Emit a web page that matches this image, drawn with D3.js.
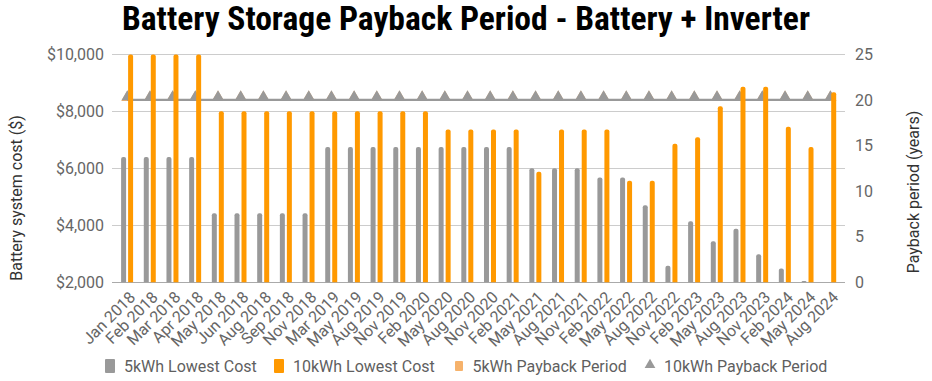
<!DOCTYPE html>
<html><head><meta charset="utf-8">
<script src="https://cdn.jsdelivr.net/npm/d3@7"></script>
<style>
html,body{margin:0;padding:0;background:#fff;}
svg{display:block;font-family:Roboto,"Noto Sans",sans-serif;}
</style></head>
<body>
<svg id="chart" width="932" height="381"></svg>
<script>
const categories = ["Jan 2018","Feb 2018","Mar 2018","Apr 2018","May 2018","Jun 2018","Aug 2018","Sep 2018","Nov 2018","Mar 2019","May 2019","Aug 2019","Nov 2019","Feb 2020","May 2020","Aug 2020","Nov 2020","Feb 2021","May 2021","Aug 2021","Nov 2021","Feb 2022","May 2022","Aug 2022","Nov 2022","Feb 2023","May 2023","Aug 2023","Nov 2023","Feb 2024","May 2024","Aug 2024"];
const cost5kWh = [6400,6400,6400,6400,4420,4420,4420,4420,4420,6750,6750,6750,6750,6750,6750,6750,6750,6750,6000,6000,6000,5680,5680,4700,2580,4140,3440,3880,2980,2480,2050,null];
const cost10kWh = [9990,9990,9990,9990,8000,8000,8000,8000,8000,8000,8000,8000,8000,8000,7360,7360,7360,7360,5880,7360,7360,7360,5560,5560,6860,7090,8180,8860,8860,7460,6750,8670];
const payback5kWh = [20,20,20,20,20,20,20,20,20,20,20,20,20,20,20,20,20,20,20,20,20,20,20,20,20,20,20,20,20,20,20,20];
const payback10kWh = [20,20,20,20,20,20,20,20,20,20,20,20,20,20,20,20,20,20,20,20,20,20,20,20,20,20,20,20,20,20,20,20];
const leftTicks = [2000,4000,6000,8000,10000];
const rightTicks = [0,5,10,15,20,25];
const seriesNames = ["5kWh Lowest Cost","10kWh Lowest Cost","5kWh Payback Period","10kWh Payback Period"];
const colors = ["#999999","#ff9900","#f6b26b","#999999"];
const titleText = "Battery Storage Payback Period - Battery + Inverter";
const leftTitle = "Battery system cost ($)";
const rightTitle = "Payback period (years)";

const svg = d3.select("#chart");
const plotL = 112, plotR = 845, plotT = 54.3, plotB = 282.3;

const xc = d3.scalePoint().domain(categories).range([127.3, 830.4]);
const xs = d3.scaleBand().domain([0,1]).range([-6.2, 5.8]).paddingInner(2/7);
const yL = d3.scaleLinear().domain([2000,10000]).range([plotB, plotT]);
const yR = d3.scaleLinear().domain([0,25]).range([plotB, plotT]);

// Title
const title = svg.append("text").attr("x", 466).attr("y", 30)
  .attr("text-anchor","middle")
  .style("font-family","'Roboto Condensed','Liberation Sans Narrow','DejaVu Sans Condensed',Roboto,sans-serif")
  .style("font-weight","bold").style("font-size","33px").attr("fill","#000")
  .text(titleText);
const tw = title.node().getComputedTextLength();
if (Math.abs(tw-688) > 4) title.attr("textLength", 688).attr("lengthAdjust","spacingAndGlyphs");

// Gridlines
svg.append("g").selectAll("line").data(leftTicks).join("line")
  .attr("x1", plotL).attr("x2", plotR)
  .attr("y1", d=>Math.round(yL(d))+0.5).attr("y2", d=>Math.round(yL(d))+0.5)
  .attr("stroke", d=> d===2000 ? "#aaaaaa" : "#cccccc").attr("stroke-width",1);

// Left axis
const axL = d3.axisLeft(yL).tickValues(leftTicks).tickSize(0).tickPadding(8)
  .tickFormat(d=>"$"+d3.format(",")(d));
const gL = svg.append("g").attr("transform",`translate(${plotL-0},0)`).call(axL);
gL.select(".domain").remove();
gL.selectAll("text").attr("fill","#666").style("font-size","16px").style("font-family","Roboto");

// Right axis
const axR = d3.axisRight(yR).tickValues(rightTicks).tickSize(0).tickPadding(10);
const gR = svg.append("g").attr("transform",`translate(${plotR},0)`).call(axR);
gR.select(".domain").remove();
gR.selectAll("text").attr("fill","#666").style("font-size","16px").style("font-family","Roboto");

// Axis titles
svg.append("text").attr("transform","translate(22,198) rotate(-90)").attr("text-anchor","middle")
  .attr("fill","#333").style("font-size","16px").text(leftTitle);
svg.append("text").attr("transform","translate(919,192) rotate(-90)").attr("text-anchor","middle")
  .attr("fill","#333").style("font-size","16px").text(rightTitle);

// Payback lines (drawn beneath bars)
const line5 = d3.line().x((d,i)=>xc(categories[i])).y(d=>yR(d));
svg.append("path").datum(payback5kWh).attr("d", line5).attr("fill","none")
  .attr("stroke", colors[2]).attr("stroke-width",2);
const tri = d3.symbol().type(d3.symbolTriangle);
svg.append("g").selectAll("path").data(payback5kWh).join("path")
  .attr("transform",(d,i)=>`translate(${xc(categories[i])},${yR(d)-2.5})`)
  .attr("d", tri.size(64)()).attr("fill", colors[2]);
svg.append("path").datum(payback10kWh).attr("d", line5).attr("fill","none")
  .attr("stroke", colors[3]).attr("stroke-width",2.2);
svg.append("g").selectAll("path").data(payback10kWh).join("path")
  .attr("transform",(d,i)=>`translate(${xc(categories[i])},${yR(d)-3})`)
  .attr("d", tri.size(58)()).attr("fill", colors[3]);

// Bars with rounded tops
function barPath(x, w, yTop, yBot, r){
  r = Math.min(r, w/2, (yBot-yTop));
  return `M${x},${yBot}V${yTop+r}Q${x},${yTop} ${x+r},${yTop}H${x+w-r}Q${x+w},${yTop} ${x+w},${yTop+r}V${yBot}Z`;
}
const barData = [];
categories.forEach((c,i)=>{
  if (cost5kWh[i]!=null) barData.push({c, s:0, v:cost5kWh[i]});
  if (cost10kWh[i]!=null) barData.push({c, s:1, v:cost10kWh[i]});
});
svg.append("g").selectAll("path").data(barData).join("path")
  .attr("d", d=>barPath(xc(d.c)+xs(d.s), xs.bandwidth(), yL(d.v), plotB, 2))
  .attr("fill", d=>colors[d.s]);

// X labels
svg.append("g").selectAll("text").data(categories).join("text")
  .attr("transform", d=>`translate(${xc(d)+5},${plotB+12}) rotate(-45)`)
  .attr("text-anchor","end").attr("dy","0.35em")
  .attr("fill","#666").style("font-size","16px").text(d=>d);

// Legend
const legX = [105, 274, 455, 645];
const legY = 366;
const lg = svg.append("g");
seriesNames.forEach((n,i)=>{
  const g = lg.append("g").attr("transform",`translate(${legX[i]},${legY})`);
  if (i===3) {
    g.append("path").attr("d", d3.symbol().type(d3.symbolTriangle).size(50)()).attr("transform","translate(5,-1)").attr("fill",colors[3]);
  } else if (i===2) {
    g.append("rect").attr("x",0).attr("y",-5).attr("width",8).attr("height",10).attr("rx",1).attr("fill",colors[2]);
  } else {
    g.append("rect").attr("x",0).attr("y",-7).attr("width",10).attr("height",14).attr("rx",1).attr("fill",colors[i]);
  }
  g.append("text").attr("x", i===2?17.5:19).attr("y",0).attr("dy","0.35em")
    .attr("fill","#5f5f5f").style("font-size","16px").text(n);
});
</script>
</body></html>
